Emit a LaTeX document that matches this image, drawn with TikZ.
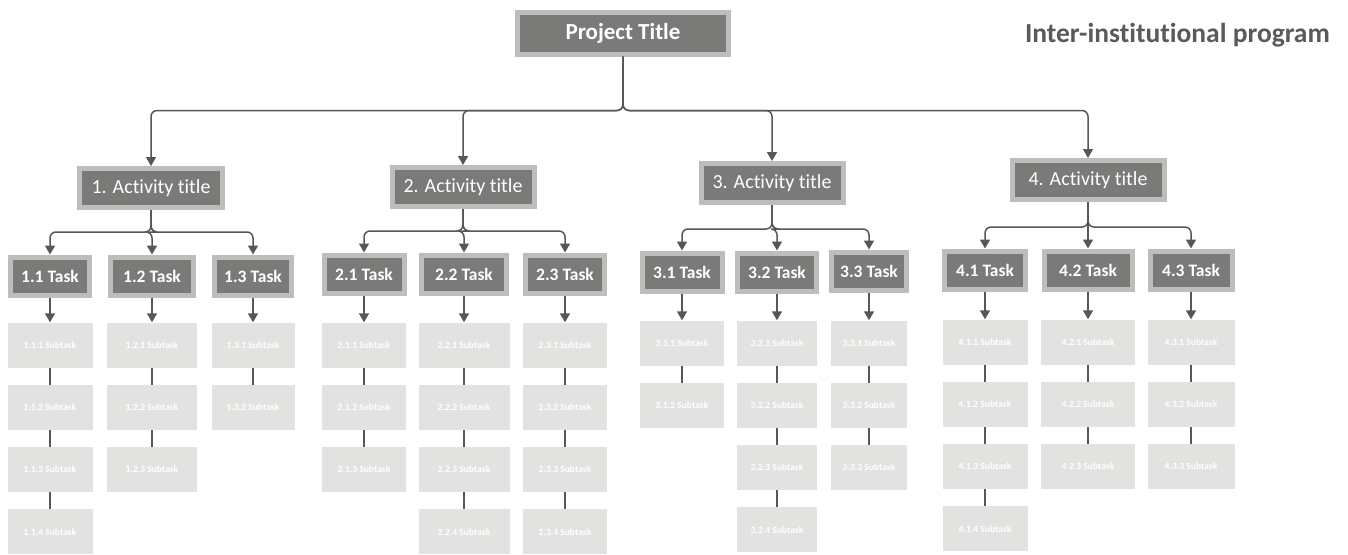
\documentclass[tikz,border=0pt]{standalone}
\usepackage{fontspec}
\setmainfont{Carlito}[Ligatures=NoCommon]
\usetikzlibrary{arrows.meta}
\definecolor{boxfill}{HTML}{7A7A78}
\definecolor{boxedge}{HTML}{BDBDBB}
\definecolor{subfill}{HTML}{E2E2E0}
\definecolor{wire}{HTML}{575757}
\definecolor{captext}{HTML}{5A5A5A}
\tikzset{
  darkbox/.style={fill=boxfill, draw=boxedge, line width=5pt, text=white, inner sep=0pt},
  titlebox/.style={darkbox, font=\fontsize{23}{25}\selectfont\bfseries},
  actbox/.style={darkbox, font=\fontsize{20}{22}\selectfont},
  taskbox/.style={darkbox, font=\fontsize{17.5}{19}\selectfont\bfseries, minimum height=38pt},
  subbox/.style={fill=subfill, draw=none, text=white, font=\fontsize{9.5}{10}\selectfont\bfseries, minimum height=45pt, inner sep=0pt},
  wireline/.style={draw=wire, line width=1.5pt},
  arrowline/.style={wireline, -{Triangle[width=10pt,length=9pt]}, rounded corners=6pt},
}
\begin{document}
\begin{tikzpicture}[x=1pt,y=-1pt]
\fill[white] (0,0) rectangle (1348,554);
\useasboundingbox (0,0) rectangle (1348,554);

% top of the hierarchy and the programme caption
\node[titlebox, minimum width=211pt, minimum height=42pt] (title) at (623,33) {Project Title};
\node[font=\fontsize{27.5}{30}\selectfont\bfseries, text=captext, anchor=east, inner sep=0pt] (program) at (1330,35) {Inter-institutional program};

% activities
\foreach \a/\x/\y/\w in {1/151/188/143, 2/463/187/142, 3/772/183/142, 4/1088/180/152} {
  \node[actbox, minimum width=\w pt, minimum height=39pt] (act\a) at (\x,\y) {\a. Activity title};
  \draw[arrowline] (title.south) -- ++(0,54) -| (act\a.north);
}

% tasks and their subtasks
\foreach \a/\b/\x/\y/\w/\sw/\s/\n/\bus in {
  1/1/50/276/84/85/345/4/22, 1/2/152/276/88/90/345/3/22, 1/3/253/276/82/83/345/2/22,
  2/1/364/274/85/84/345/3/22, 2/2/464/274/90/91/345/4/22, 2/3/565/274/84/84/345/4/22,
  3/1/682/272/85/84/343/2/24, 3/2/777/272/84/80/343/4/24, 3/3/869/271/80/76/343/3/24,
  4/1/985/270/86/85/342/4/25, 4/2/1088/270/93/94/342/3/25, 4/3/1191/270/87/87/342/3/25} {
  \node[taskbox, minimum width=\w pt - 5pt] (t\a\b) at (\x,\y) {\a.\b\ Task};
  \draw[arrowline] (act\a.south) -- ++(0,\bus) -| (t\a\b.north);
  \foreach \k in {1,...,\n} {
    \pgfmathsetmacro\sy{\s+(\k-1)*62.3}
    \node[subbox, minimum width=\sw pt] (s\a\b\k) at (\x,\sy) {\a.\b.\k\ Subtask};
    \ifnum\k=1
      \draw[arrowline] (t\a\b.south) -- (s\a\b\k.north);
    \else
      \pgfmathtruncatemacro\prev{\k-1}
      \draw[wireline] (s\a\b\prev.south) -- (s\a\b\k.north);
    \fi
  }
}
\end{tikzpicture}
\end{document}
